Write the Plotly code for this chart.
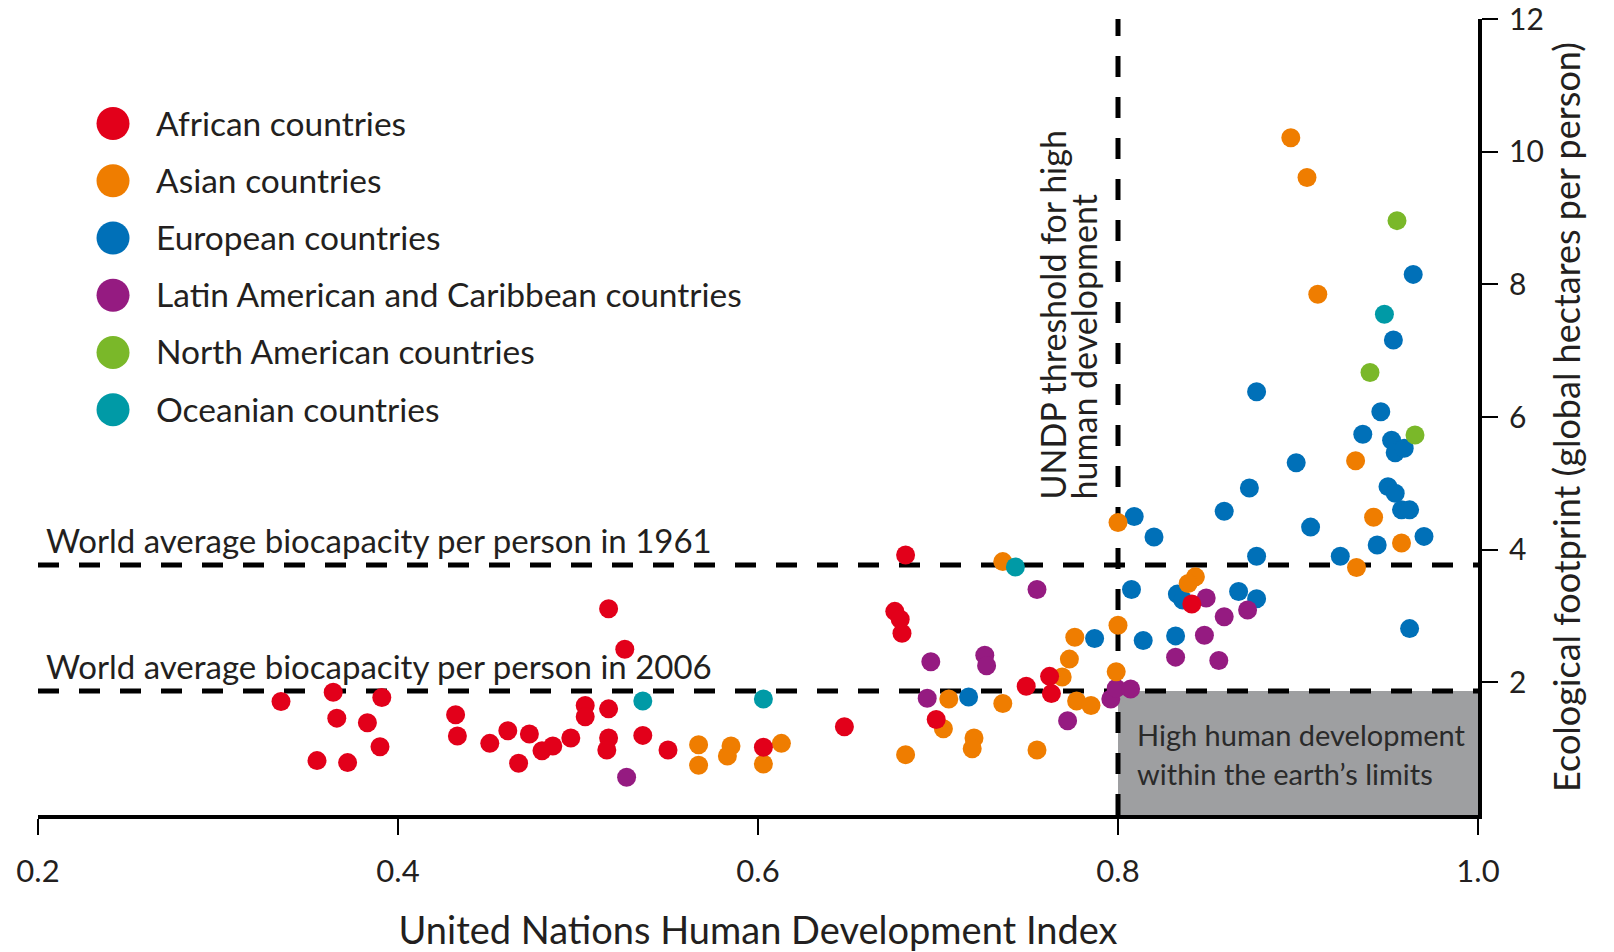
import plotly.graph_objects as go

# ---------------- data ----------------
categories = ["African countries", "Asian countries", "European countries",
              "Latin American and Caribbean countries", "North American countries",
              "Oceanian countries"]
colors = ["#e2001a", "#ef7d00", "#0070b8", "#951b81", "#7ab829", "#009aa6"]

african_hdi = [0.335, 0.364, 0.391, 0.366, 0.383, 0.390, 0.355, 0.372, 0.432, 0.433,
               0.451, 0.461, 0.473, 0.467, 0.480, 0.486, 0.496, 0.504, 0.504, 0.517,
               0.526, 0.517, 0.517, 0.516, 0.536, 0.550, 0.603, 0.648, 0.682, 0.676,
               0.679, 0.680, 0.699, 0.749, 0.762, 0.763, 0.841]
african_ef = [1.71, 1.85, 1.77, 1.46, 1.39, 1.03, 0.82, 0.79, 1.51, 1.19,
              1.08, 1.27, 1.22, 0.78, 0.97, 1.04, 1.16, 1.65, 1.48, 3.11,
              2.50, 1.60, 1.16, 0.98, 1.20, 0.98, 1.02, 1.33, 3.92, 3.07,
              2.95, 2.74, 1.44, 1.94, 2.09, 1.83, 3.18]

asian_hdi = [0.567, 0.567, 0.585, 0.583, 0.603, 0.613, 0.682, 0.703, 0.706, 0.720,
             0.719, 0.736, 0.736, 0.755, 0.769, 0.773, 0.776, 0.777, 0.785, 0.799,
             0.800, 0.800, 0.843, 0.839, 0.896, 0.905, 0.911, 0.932, 0.942, 0.9575,
             0.9325]
asian_ef = [1.06, 0.75, 1.04, 0.89, 0.77, 1.08, 0.91, 1.30, 1.75, 1.16,
            1.00, 1.68, 3.82, 0.98, 2.08, 2.35, 2.68, 1.72, 1.65, 2.16,
            2.86, 4.41, 3.59, 3.49, 10.21, 9.61, 7.85, 5.34, 4.49, 4.10,
            3.73]

european_hdi = [0.717, 0.787, 0.809, 0.820, 0.8075, 0.814, 0.832, 0.833, 0.836, 0.867,
                0.877, 0.859, 0.873, 0.877, 0.899, 0.907, 0.9235, 0.944, 0.950, 0.954,
                0.9575, 0.962, 0.970, 0.962, 0.877, 0.936, 0.946, 0.952, 0.954, 0.959,
                0.953, 0.964]
european_ef = [1.78, 2.66, 4.50, 4.19, 3.40, 2.63, 2.70, 3.33, 3.24, 3.37,
               3.26, 4.58, 4.93, 3.90, 5.31, 4.34, 3.90, 4.07, 4.95, 4.85,
               4.60, 4.60, 4.20, 2.81, 6.38, 5.74, 6.08, 5.65, 5.46, 5.53,
               7.16, 8.15]

latin_hdi = [0.527, 0.694, 0.696, 0.726, 0.727, 0.755, 0.772, 0.796, 0.799, 0.807,
             0.849, 0.859, 0.872, 0.848, 0.832, 0.856]
latin_ef = [0.57, 1.76, 2.31, 2.41, 2.25, 3.40, 1.42, 1.75, 1.91, 1.90,
            3.27, 2.99, 3.09, 2.71, 2.38, 2.33]

north_american_hdi = [0.955, 0.940, 0.965]
north_american_ef = [8.96, 6.67, 5.73]

oceanian_hdi = [0.536, 0.603, 0.743, 0.948]
oceanian_ef = [1.72, 1.75, 3.74, 7.55]

x_ticks = [0.2, 0.4, 0.6, 0.8, 1.0]
x_tick_labels = ["0.2", "0.4", "0.6", "0.8", "1.0"]
y_ticks = [2, 4, 6, 8, 10, 12]
y_tick_labels = ["2", "4", "6", "8", "10", "12"]

biocapacity_1961 = 3.77
biocapacity_2006 = 1.87
hdi_threshold = 0.8

# ---------------- figure ----------------
FONT = "Lato"
TXT = "#231f20"

series = {
    "European countries": (european_hdi, european_ef),
    "Latin American and Caribbean countries": (latin_hdi, latin_ef),
    "Asian countries": (asian_hdi, asian_ef),
    "African countries": (african_hdi, african_ef),
    "North American countries": (north_american_hdi, north_american_ef),
    "Oceanian countries": (oceanian_hdi, oceanian_ef),
}
color_of = dict(zip(categories, colors))

fig = go.Figure()
for name, (xs, ys) in series.items():
    fig.add_trace(go.Scatter(
        x=xs, y=ys, mode="markers", name=name, showlegend=False,
        marker=dict(size=19, color=color_of[name], line=dict(width=0)),
    ))

# shaded region: high development within earth's limits
fig.add_shape(type="rect", xref="x", yref="y", x0=hdi_threshold, x1=1.0,
              y0=0, y1=biocapacity_2006, fillcolor="#9e9fa1",
              line=dict(width=0), layer="below")

dash = "21px,20px"
for yv in (biocapacity_1961, biocapacity_2006):
    fig.add_shape(type="line", xref="x", yref="y", x0=0.2, x1=1.0, y0=yv, y1=yv,
                  line=dict(color="black", width=5, dash=dash), layer="below")
fig.add_shape(type="line", xref="x", yref="y", x0=hdi_threshold, x1=hdi_threshold,
              y0=0, y1=12.08, line=dict(color="black", width=5, dash=dash), layer="below")

# annotations
fig.add_annotation(xref="paper", yref="y", x=0.004, y=biocapacity_1961, yshift=3,
                   text="World average biocapacity per person in 1961", showarrow=False,
                   xanchor="left", yanchor="bottom", font=dict(family=FONT, size=33, color=TXT))
fig.add_annotation(xref="paper", yref="y", x=0.004, y=biocapacity_2006, yshift=3,
                   text="World average biocapacity per person in 2006", showarrow=False,
                   xanchor="left", yanchor="bottom", font=dict(family=FONT, size=33, color=TXT))

fig.add_annotation(xref="x", yref="y", x=hdi_threshold, y=4.72, xshift=-66,
                   text="UNDP threshold for high", showarrow=False, textangle=-90,
                   xanchor="center", yanchor="bottom", font=dict(family=FONT, size=34, color=TXT))
fig.add_annotation(xref="x", yref="y", x=hdi_threshold, y=4.72, xshift=-35,
                   text="human development", showarrow=False, textangle=-90,
                   xanchor="center", yanchor="bottom", font=dict(family=FONT, size=34, color=TXT))

fig.add_annotation(xref="x", yref="y", x=0.8095, y=1.21,
                   text="High human development", showarrow=False,
                   xanchor="left", yanchor="middle", font=dict(family=FONT, size=29, color="#2a2a2a"))
fig.add_annotation(xref="x", yref="y", x=0.8095, y=0.62,
                   text="within the earth\u2019s limits", showarrow=False,
                   xanchor="left", yanchor="middle", font=dict(family=FONT, size=29, color="#2a2a2a"))

# custom legend (large dots)
legend_x = 0.0521
legend_text_x = 0.0805
legend_top = 0.8687
legend_step = 0.0719
for i, cat in enumerate(categories):
    yc = legend_top - i * legend_step
    fig.add_shape(type="circle", xref="paper", yref="paper",
                  xsizemode="pixel", ysizemode="pixel", xanchor=legend_x, yanchor=yc,
                  x0=-16.5, x1=16.5, y0=-16.5, y1=16.5,
                  fillcolor=colors[i], line=dict(width=0))
    fig.add_annotation(xref="paper", yref="paper", x=legend_text_x, y=yc, yshift=1,
                       text=cat, showarrow=False, xanchor="left", yanchor="middle",
                       font=dict(family=FONT, size=33.5, color=TXT))

fig.update_layout(
    template="none",
    width=1614, height=952,
    margin=dict(l=38, r=136, t=19, b=137, autoexpand=False),
    paper_bgcolor="white", plot_bgcolor="white",
    showlegend=False,
    font=dict(family=FONT, color=TXT),
    xaxis=dict(
        range=[0.2, 1.0], tickvals=x_ticks, ticktext=x_tick_labels,
        showgrid=False, zeroline=False, showline=True, linewidth=4, linecolor="black",
        ticks="outside", ticklen=16, tickwidth=2, tickcolor="black",
        ticklabelstandoff=10,
        tickfont=dict(family=FONT, size=31, color=TXT),
        title=dict(text="United Nations Human Development Index",
                   font=dict(family=FONT, size=38, color=TXT), standoff=30),
        automargin=False,
    ),
    yaxis=dict(
        range=[0, 12], tickvals=y_ticks, ticktext=y_tick_labels, side="right",
        showgrid=False, zeroline=False, showline=True, linewidth=4, linecolor="black",
        ticks="outside", ticklen=16, tickwidth=2, tickcolor="black",
        ticklabelstandoff=5, ticklabeloverflow="allow",
        tickfont=dict(family=FONT, size=30, color=TXT),
        title=dict(text="Ecological footprint (global hectares per person)",
                   font=dict(family=FONT, size=36, color=TXT), standoff=11),
        automargin=False,
    ),
)

# remove the default 8px page margin so the figure sits at the window's corner
fig.write_html("out.html",
               config={"displayModeBar": False},
               post_script="document.body.style.margin='0';document.body.style.overflow='hidden';")
